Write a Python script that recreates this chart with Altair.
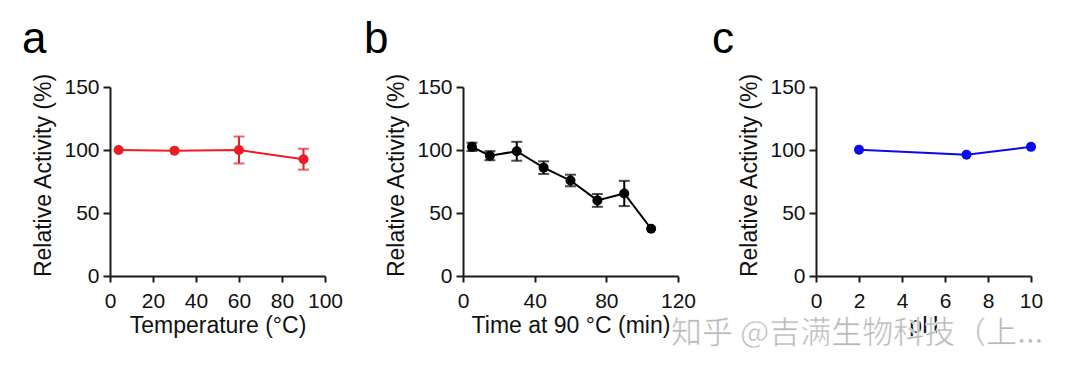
import altair as alt
import pandas as pd

# ---- data ----
temp_x = [4, 30, 60, 90]
temp_y = [100.0, 99.5, 100.0, 92.7]
temp_err = [0, 0, 10.7, 8.3]

time_x = [5, 15, 30, 45, 60, 75, 90, 105]
time_y = [102.5, 95.5, 99.0, 86.0, 75.8, 60.0, 65.5, 37.5]
time_err = [3.3, 3.6, 7.5, 5.0, 4.6, 5.1, 10.0, 0]

ph_x = [2, 7, 10]
ph_y = [100.2, 96.3, 102.5]
ph_err = [0, 0, 0]

y_ticks = [0, 50, 100, 150]
temp_ticks = [0, 20, 40, 60, 80, 100]
time_ticks = [0, 40, 80, 120]
ph_ticks = [0, 2, 4, 6, 8, 10]

y_title = "Relative Activity (%)"
watermark = "知乎 @吉满生物科技（上..."

FONT = "Liberation Sans"
W, H = 215, 189


def panel(xs, ys, errs, xtitle, xdomain, xticks, color, letter, letter_dx, extra=None):
    df = pd.DataFrame({"x": xs, "y": ys, "err": errs})
    df["lo"] = df["y"] - df["err"]
    df["hi"] = df["y"] + df["err"]
    xscale = alt.Scale(domain=xdomain, nice=False, zero=False)
    yscale = alt.Scale(domain=[0, 150], nice=False)
    xaxis = alt.Axis(values=xticks, title=xtitle, tickSize=6, labelPadding=8,
                     labelOverlap=False, labelFlush=False, labelBound=False,
                     titleY=56, titleBaseline="alphabetic")
    yaxis = alt.Axis(values=y_ticks, title=y_title, tickSize=7, labelPadding=4,
                     labelOverlap=False, labelFlush=False,
                     titleX=-67, titleY=88, titleAngle=-90, titleAlign="center",
                     titleBaseline="middle")
    base = alt.Chart(df)
    line = base.mark_line(color=color, strokeWidth=2).encode(
        x=alt.X("x:Q", scale=xscale, axis=xaxis),
        y=alt.Y("y:Q", scale=yscale, axis=yaxis),
    )
    ebase = base.transform_filter("datum.err > 0")
    rule = ebase.mark_rule(color=color, strokeWidth=2).encode(
        x="x:Q", y="lo:Q", y2="hi:Q")
    cap_lo = ebase.mark_tick(color=color, orient="horizontal", size=11, thickness=2).encode(
        x="x:Q", y="lo:Q")
    cap_hi = ebase.mark_tick(color=color, orient="horizontal", size=11, thickness=2).encode(
        x="x:Q", y="hi:Q")
    pts = base.mark_point(filled=True, opacity=1, color=color, size=100).encode(
        x="x:Q", y="y:Q")
    lab = alt.Chart(pd.DataFrame({"t": [letter]})).mark_text(
        font=FONT, fontSize=44, align="left", baseline="alphabetic", color="black"
    ).encode(text="t:N", x=alt.value(letter_dx), y=alt.value(-34))
    layers = [line, rule, cap_lo, cap_hi, pts, lab]
    if extra is not None:
        layers.append(extra)
    return alt.layer(*layers).properties(width=W, height=H)


wm = alt.Chart(pd.DataFrame({"t": [watermark]})).mark_text(
    font="Noto Sans CJK SC", fontSize=31, align="left", baseline="middle",
    color="#b8b8b8", stroke="white", strokeWidth=0.6
).encode(text="t:N", x=alt.value(-145), y=alt.value(247))

pa = panel(temp_x, temp_y, temp_err, "Temperature (°C)", [0, 100], temp_ticks,
           "#ee1c24", "a", -88)
pb = panel(time_x, time_y, time_err, "Time at 90 °C (min)", [0, 120], time_ticks,
           "#000000", "b", -99)
pc = panel(ph_x, ph_y, ph_err, "pH", [0, 10], ph_ticks,
           "#0a0af0", "c", -104, extra=wm)

chart = alt.hconcat(pa, pb, pc, spacing=138, bounds="flush").properties(
    padding={"left": 14, "top": 10, "right": 5, "bottom": 5},
    background="white",
).configure_view(stroke=None).configure_axis(
    grid=False,
    domainColor="#1a1a1a", domainWidth=2,
    tickColor="#1a1a1a", tickWidth=2,
    labelFont=FONT, labelFontSize=21, labelColor="#111111",
    titleFont=FONT, titleFontSize=23, titleFontWeight="normal", titleColor="#111111",
)

chart.save("out.html", embed_options={"renderer": "svg", "actions": False})
